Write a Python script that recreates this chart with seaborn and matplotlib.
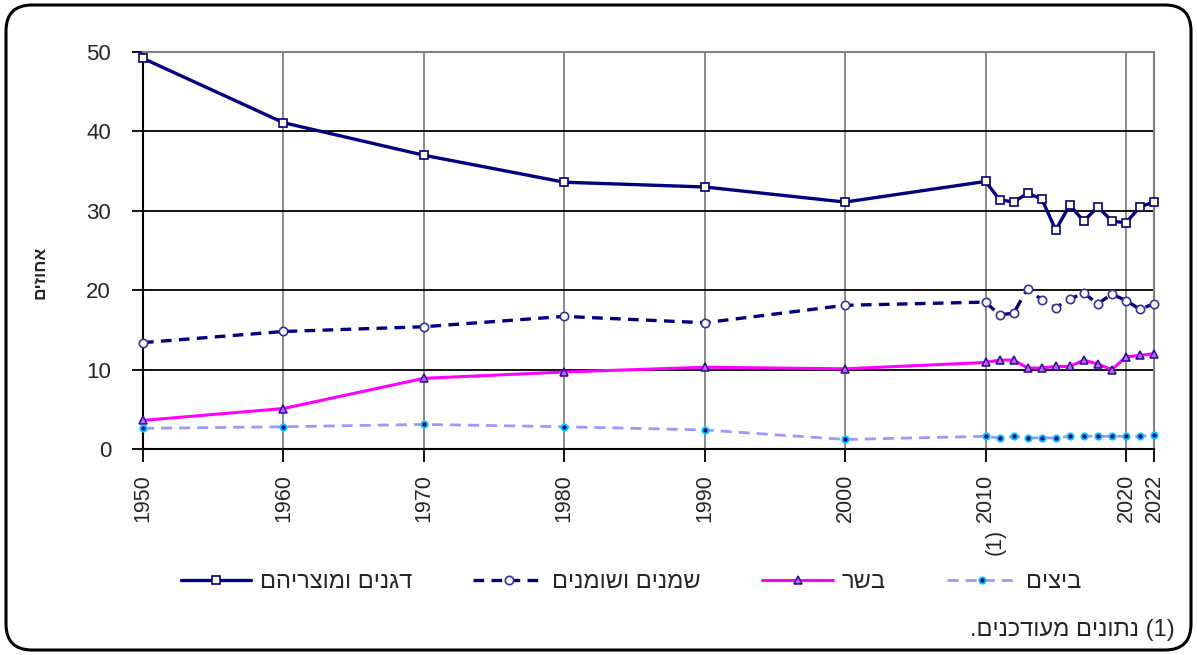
import matplotlib
matplotlib.use("Agg")
import matplotlib.pyplot as plt
from matplotlib.patches import FancyBboxPatch
import seaborn as sns

# Food supply shares (%) by year
years = [1950, 1960, 1970, 1980, 1990, 2000, 2010, 2011, 2012, 2013, 2014,
         2015, 2016, 2017, 2018, 2019, 2020, 2021, 2022]
grains = [49.2, 41.1, 37.0, 33.6, 33.0, 31.1, 33.7, 31.4, 31.1, 32.2, 31.5,
          27.6, 30.7, 28.7, 30.5, 28.7, 28.5, 30.5, 31.1]
oils = [13.4, 14.8, 15.4, 16.7, 15.9, 18.1, 18.5, 16.9, 17.1, 20.2, 18.8,
        17.8, 18.9, 19.6, 18.3, 19.5, 18.7, 17.6, 18.3]
meat = [3.6, 5.1, 8.9, 9.7, 10.3, 10.1, 10.9, 11.2, 11.2, 10.2, 10.2,
        10.4, 10.4, 11.2, 10.7, 10.0, 11.6, 11.8, 12.0]
eggs = [2.6, 2.8, 3.1, 2.8, 2.4, 1.2, 1.6, 1.4, 1.6, 1.4, 1.4,
        1.4, 1.6, 1.6, 1.6, 1.6, 1.6, 1.6, 1.8]

# Hebrew labels (logical order); reversed for left-to-right rendering
series_names = ["דגנים ומוצריהם", "שמנים ושומנים", "בשר", "ביצים"]
y_title = "אחוזים"
footnote = "(1) נתונים מעודכנים."
xtick_values = [1950, 1960, 1970, 1980, 1990, 2000, 2010, 2020, 2022]
xtick_labels = ["1950", "1960", "1970", "1980", "1990", "2000", "2010", "2020", "2022"]
ytick_values = [0, 10, 20, 30, 40, 50]


def visual(s):
    return s[::-1]


def visual_note(s):
    # "(1)" stays in reading order on the right, words reversed
    num, rest = s.split(" ", 1)
    return visual(rest) + " " + num


sns.set_style("white")
plt.rcParams["font.family"] = ["Liberation Sans", "DejaVu Sans"]

fig = plt.figure(figsize=(11.97, 6.55), dpi=100)
fig.patch.set_facecolor("white")
ax = fig.add_axes([143 / 1197, 1 - 449 / 655, (1154 - 143) / 1197, (449 - 52) / 655])

navy = "#000080"
sns.lineplot(x=years, y=grains, ax=ax, color=navy, lw=2.4, marker="s",
             markersize=6, markerfacecolor="#FFFFE0", markeredgecolor=navy,
             markeredgewidth=1.2, label=visual(series_names[0]), zorder=5,
             clip_on=False)
sns.lineplot(x=years, y=oils, ax=ax, color=navy, lw=2.4, linestyle=(0, (3.2, 2.2)),
             marker="o", markersize=6, markerfacecolor="white",
             markeredgecolor="#333399", markeredgewidth=1.2,
             label=visual(series_names[1]), zorder=4, clip_on=False)
sns.lineplot(x=years, y=meat, ax=ax, color="#FF00FF", lw=2.2, marker="^",
             markersize=6, markerfacecolor="#B070F0", markeredgecolor="#330099",
             markeredgewidth=1.1, label=visual(series_names[2]), zorder=4,
             clip_on=False)
sns.lineplot(x=years, y=eggs, ax=ax, color="#9999FF", lw=2.0, linestyle=(0, (4, 2.5)),
             marker="o", markersize=4.5, markerfacecolor="#000080",
             markeredgecolor="#00CCFF", markeredgewidth=1.4,
             label=visual(series_names[3]), zorder=4, clip_on=False)

ax.set_xlim(1950, 2022)
ax.set_ylim(0, 50)
ax.set_xticks(xtick_values)
ax.set_xticklabels(xtick_labels, rotation=90, fontsize=15.5)
ax.set_yticks(ytick_values)
ax.tick_params(axis="y", labelsize=16, length=8, width=1.3, pad=15, color="black",
               direction="out", left=True)
ax.tick_params(axis="x", length=9, width=1.3, pad=9, color="black",
               direction="out", bottom=True)
ax.set_xlabel("")
ax.set_ylabel("")

ax.yaxis.grid(True, color="black", lw=1.3)
ax.xaxis.grid(True, color="#808080", lw=1.3)
ax.set_axisbelow(True)
for side in ("left", "bottom"):
    ax.spines[side].set_color("black")
    ax.spines[side].set_linewidth(1.5)
for side in ("top", "right"):
    ax.spines[side].set_color("#808080")
    ax.spines[side].set_linewidth(1.5)

# footnote marker next to 2010 tick label
ax.text(2010.7, -0.235, "(1)", transform=ax.get_xaxis_transform(), rotation=90,
        ha="center", va="center", fontsize=15.5)

fig.text(40 / 1197, 1 - 272 / 655, visual(y_title), rotation=90, ha="center",
         va="center", fontsize=12.5, fontweight="bold")

handles, labels = ax.get_legend_handles_labels()
ax.get_legend().remove()
fig.legend(handles, labels, loc="center", bbox_to_anchor=(631 / 1197, 1 - 582 / 655),
           ncol=4, frameon=False, fontsize=17, handlelength=3.0,
           handletextpad=0.35, columnspacing=2.6)

fig.text(1175 / 1197, 1 - 630 / 655, visual_note(footnote), ha="right", va="center",
         fontsize=17)

frame = FancyBboxPatch((6, 5), 1185, 645, boxstyle="round,pad=0,rounding_size=26",
                       transform=None, fill=False, lw=2.2, ec="black")
fig.add_artist(frame)

fig.savefig("out.png", dpi=100, facecolor="white")
